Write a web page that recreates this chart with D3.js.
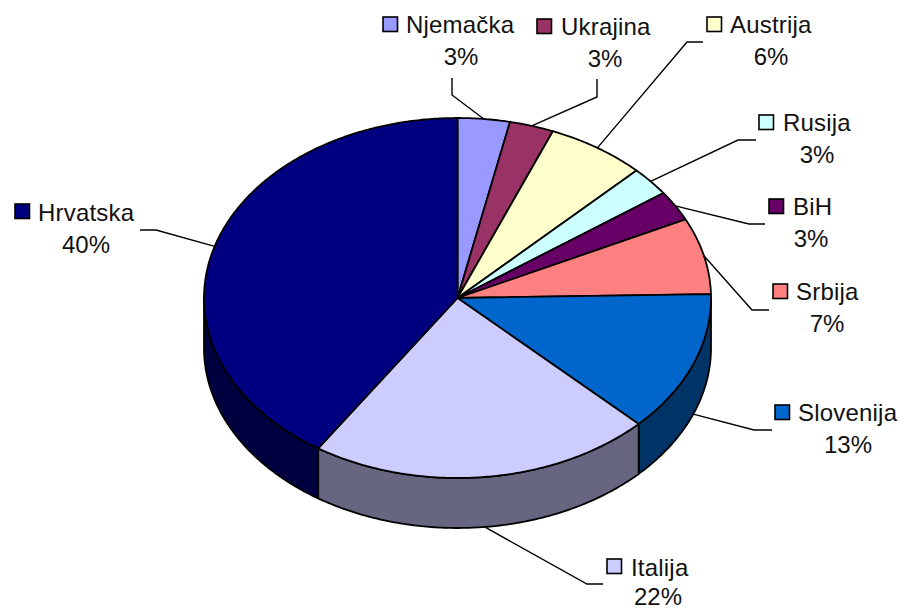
<!DOCTYPE html>
<html>
<head>
<meta charset="utf-8">
<script src="https://cdnjs.cloudflare.com/ajax/libs/d3/7.8.5/d3.min.js"></script>
<style>
	html,body{margin:0;padding:0;background:#ffffff;}
	svg{display:block;}
	text{font-family:"Liberation Sans",Arial,sans-serif;font-size:24px;fill:#111111;}
</style>
</head>
<body>
<div id="chart"></div>
<script>
//values, labels show them rounded
var countries = ["Njemačka","Ukrajina","Austrija","Rusija","BiH","Srbija","Slovenija","Italija","Hrvatska"];
var shares = [3.3,2.8,6.3,2.6,2.7,6.8,12.6,21.8,40.49];
var colors = ["#9999ff","#993366","#ffffcc","#ccffff","#660066","#ff8080","#0066cc","#ccccff","#000080"];

//label layout, one row per country: swatch x/y, name x/baseline, percent centre/baseline, leader elbow, leader end
var labelLayout = [
	[383,17,406,33,461,65,[452,95],[452,78]],
	[537,19,561,35,605,67,[597,97],[597,79]],
	[707,17,730,33,771,65,[687,42],[703,42]],
	[759,115,783,131,817,163,[738,140],[756,140]],
	[769,199,793,215,811,247,[749,224],[765,224]],
	[773,284,796,300,827,332,[752,310],[769,310]],
	[775,405,798,421,848,453,[754,430],[772,430]],
	[607,559,631,576,658,604.5,[587,584],[603,584]],
	[15,204,38,221,86,253,[156,230],[140,230]]
];

var width = 900, height = 610;
var cx = 457.5, cy = 298, rx = 253.5, ry = 180, depth = 50;

var svg = d3.select("#chart").append("svg").attr("width",width).attr("height",height);
var layers = {};
layers.sides = svg.append("g");
layers.top = svg.append("g");
layers.leaders = svg.append("g");
layers.labels = svg.append("g");

var pie = d3.pie().sort(null).startAngle(0).endAngle(2*Math.PI);
var slices = pie(shares);

//point on the tilted rim, angle clockwise from 12 o'clock
function rim(a, drop){
	return [cx + rx*Math.sin(a), cy - ry*Math.cos(a) + (drop||0)];
}

function arcPoints(a0, a1, drop){
	var n = Math.max(2, Math.ceil((a1-a0)/0.01));
	return d3.range(n+1).map(function(i){
		return rim(a0 + (a1-a0)*i/n, drop);
	});
}

var line = d3.line();

function half(c){
	var r = d3.rgb(c);
	return d3.rgb(r.r/2, r.g/2, r.b/2).formatHex();
}

//outer wall, only the front half of the disc shows
var front0 = Math.PI/2, front1 = 3*Math.PI/2;
slices.forEach(function(d,i){
	var a0 = Math.max(d.startAngle, front0), a1 = Math.min(d.endAngle, front1);
	if(a1 <= a0){return;}
	var pts = arcPoints(a0,a1,0).concat(arcPoints(a0,a1,depth).reverse());
	layers.sides.append("path")
		.attr("d", line(pts)+"Z")
		.attr("fill", half(colors[i]))
		.attr("stroke","#000000").attr("stroke-width",1.8).attr("stroke-linejoin","round");
});

//top face
layers.top.selectAll("path.slice").data(slices).enter().append("path").classed("slice",true)
	.attr("d", function(d){
		return line([[cx,cy]].concat(arcPoints(d.startAngle,d.endAngle,0)))+"Z";
	})
	.attr("fill", function(d,i){return colors[i]})
	.attr("stroke","#000000").attr("stroke-width",1.8).attr("stroke-linejoin","round");

//leaders start on the visible rim at the middle of the slice
layers.leaders.selectAll("path").data(slices).enter().append("path")
	.attr("d", function(d,i){
		var mid = (d.startAngle+d.endAngle)/2;
		var isFront = Math.cos(mid) < 0;
		return line([rim(mid, isFront ? depth : 0), labelLayout[i][6], labelLayout[i][7]]);
	})
	.attr("fill","none").attr("stroke","#000000").attr("stroke-width",1.4);

var lab = layers.labels.selectAll("g").data(countries).enter().append("g");

lab.append("rect")
	.attr("x", function(d,i){return labelLayout[i][0]})
	.attr("y", function(d,i){return labelLayout[i][1]})
	.attr("width",14.5).attr("height",14.5)
	.attr("fill", function(d,i){return colors[i]})
	.attr("stroke","#000000").attr("stroke-width",1.6);

lab.append("text")
	.attr("x", function(d,i){return labelLayout[i][2]})
	.attr("y", function(d,i){return labelLayout[i][3]})
	.style("letter-spacing","0.2px")
	.text(function(d){return d});

lab.append("text")
	.attr("x", function(d,i){return labelLayout[i][4]})
	.attr("y", function(d,i){return labelLayout[i][5]})
	.attr("text-anchor","middle")
	.text(function(d,i){return Math.round(shares[i])+"%"});
</script>
</body>
</html>
